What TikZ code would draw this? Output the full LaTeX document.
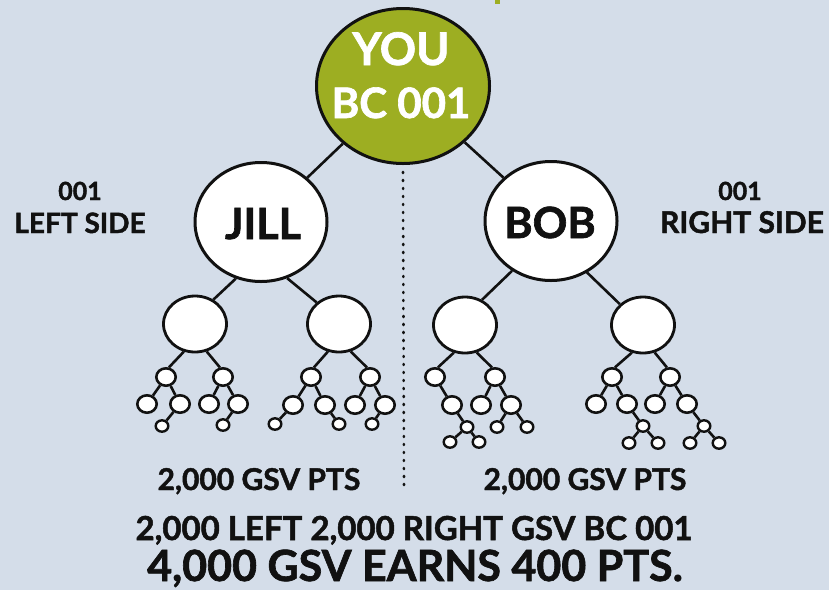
\documentclass[tikz,border=0pt]{standalone}
\usepackage{fontspec}
\setmainfont{Lato}[BoldFeatures={FakeBold=1.5}]
\usetikzlibrary{shapes.geometric}
\definecolor{bg}{RGB}{212,221,233}
\definecolor{leafgreen}{RGB}{157,174,34}
\definecolor{ink}{RGB}{17,17,17}
\newcommand{\fsz}[1]{\fontsize{#1}{#1}\selectfont}

\tikzset{
  rootnode/.style={ellipse, draw=ink, line width=3pt, fill=leafgreen, inner sep=0pt,
                   minimum width=173pt, minimum height=155pt},
  bignode/.style={ellipse, draw=ink, line width=3pt, fill=white, inner sep=0pt,
                  minimum width=132pt, minimum height=119pt},
  midnode/.style={ellipse, draw=ink, line width=2.8pt, fill=white, inner sep=0pt,
                  minimum width=63pt, minimum height=56pt},
  smallnode/.style={ellipse, draw=ink, line width=2.6pt, fill=white, inner sep=0pt,
                    minimum width=19.4pt, minimum height=17.4pt},
  tinynode/.style={ellipse, draw=ink, line width=2.4pt, fill=white, inner sep=0pt,
                   minimum width=12.6pt, minimum height=11.4pt},
  link/.style={draw=ink, line width=2.6pt},
  divider/.style={draw=ink, line width=2.6pt, line cap=round, dash pattern=on 1pt off 7pt},
  txt/.style={inner sep=0pt, anchor=base, text=ink, font=\bfseries},
  wtxt/.style={inner sep=0pt, anchor=base, text=white, font=\bfseries}
}

\begin{document}
\begin{tikzpicture}[x=1pt, y=-1pt]
  % canvas
  \fill[bg] (0,0) rectangle (829,590);
  \useasboundingbox (0,0) rectangle (829,590);
  \fill[leafgreen] (495,0) rectangle (500,4);

  % root and first generation
  \node[rootnode] (you) at (403,86) {};
  \node[bignode] (jill) at (261,222) {};
  \node[bignode] (bob) at (551,221) {};

  % dividing line between the two sides
  \coordinate (dotend) at (404,488);
  \draw[divider] (you.south) ++(0,7) -- (dotend);

  % second generation
  \node[midnode] (l1) at (195,324) {};
  \node[midnode] (l2) at (339,324) {};
  \node[midnode] (l3) at (465,325) {};
  \node[midnode] (l4) at (643,325) {};

  % subtree under l1
  \node[smallnode] (a1) at (166,377) {};
  \node[smallnode] (a2) at (223,377) {};
  \node[smallnode] (a11) at (147,404) {};
  \node[smallnode] (a12) at (180,404) {};
  \node[smallnode] (a21) at (209,404) {};
  \node[smallnode] (a22) at (238,404) {};
  \node[tinynode] (a121) at (162,426) {};
  \node[tinynode] (a221) at (223,425) {};

  % subtree under l2
  \node[smallnode] (b1) at (311,377) {};
  \node[smallnode] (b2) at (370,377) {};
  \node[smallnode] (b11) at (293,405) {};
  \node[smallnode] (b12) at (325,405) {};
  \node[smallnode] (b21) at (355,405) {};
  \node[smallnode] (b22) at (385,405) {};
  \node[tinynode] (b111) at (275,424) {};
  \node[tinynode] (b121) at (339,424) {};
  \node[tinynode] (b221) at (372,424) {};

  % subtree under l3
  \node[smallnode] (c1) at (435,377) {};
  \node[smallnode] (c2) at (495,377) {};
  \node[smallnode] (c11) at (452,405) {};
  \node[smallnode] (c21) at (481,405) {};
  \node[smallnode] (c22) at (511,405) {};
  \node[tinynode] (c111) at (467,427) {};
  \node[tinynode] (c1111) at (450,442) {};
  \node[tinynode] (c1112) at (479,442) {};
  \node[tinynode] (c221) at (497,427) {};
  \node[tinynode] (c222) at (527,427) {};

  % subtree under l4
  \node[smallnode] (d1) at (612,377) {};
  \node[smallnode] (d2) at (670,377) {};
  \node[smallnode] (d11) at (596,404) {};
  \node[smallnode] (d12) at (627,404) {};
  \node[smallnode] (d21) at (655,404) {};
  \node[smallnode] (d22) at (687,404) {};
  \node[tinynode] (d121) at (643,426) {};
  \node[tinynode] (d1211) at (629,443) {};
  \node[tinynode] (d1212) at (658,443) {};
  \node[tinynode] (d221) at (704,426) {};
  \node[tinynode] (d2211) at (690,443) {};
  \node[tinynode] (d2212) at (719,443) {};

  % connectors
  \draw[link] (you) -- (jill);
  \draw[link] (you) -- (bob);
  \draw[link] (jill.-114) -- (l1.53);
  \draw[link] (jill.-65) -- (l2.136);
  \draw[link] (bob.-128) -- (l3.56);
  \draw[link] (bob.-55) -- (l4.138);

  \draw[link] (l1.-112) -- (a1.73);
  \draw[link] (l1.-67) -- (a2.108);
  \draw[link] (l2.-112) -- (b1.73);
  \draw[link] (l2.-67) -- (b2.108);
  \draw[link] (l3.-112) -- (c1.73);
  \draw[link] (l3.-67) -- (c2.108);
  \draw[link] (l4.-112) -- (d1.73);
  \draw[link] (l4.-67) -- (d2.108);

  \draw[link] (a1) -- (a11);  \draw[link] (a1) -- (a12);
  \draw[link] (a2) -- (a21);  \draw[link] (a2) -- (a22);
  \draw[link] (a12) -- (a121); \draw[link] (a22) -- (a221);

  \draw[link] (b1) -- (b11);  \draw[link] (b1) -- (b12);
  \draw[link] (b2) -- (b21);  \draw[link] (b2) -- (b22);
  \draw[link] (b11) -- (b111); \draw[link] (b12) -- (b121);
  \draw[link] (b22) -- (b221);

  \draw[link] (c1) -- (c11);
  \draw[link] (c2) -- (c21);  \draw[link] (c2) -- (c22);
  \draw[link] (c11) -- (c111);
  \draw[link] (c111) -- (c1111); \draw[link] (c111) -- (c1112);
  \draw[link] (c22) -- (c221); \draw[link] (c22) -- (c222);

  \draw[link] (d1) -- (d11);  \draw[link] (d1) -- (d12);
  \draw[link] (d2) -- (d21);  \draw[link] (d2) -- (d22);
  \draw[link] (d12) -- (d121);
  \draw[link] (d121) -- (d1211); \draw[link] (d121) -- (d1212);
  \draw[link] (d22) -- (d221);
  \draw[link] (d221) -- (d2211); \draw[link] (d221) -- (d2212);

  % labels
  \node[wtxt, font=\bfseries\fsz{45}] (youname) at (401,65) {YOU};
  \node[wtxt, font=\bfseries\fsz{42}] (youcode) at (401,118) {BC 001};
  \node[txt, font=\bfseries\fsz{43}] (jillname) at (263,239) {JILL};
  \node[txt, font=\bfseries\fsz{43}] (bobname) at (550,238) {BOB};

  \node[txt, font=\bfseries\fsz{25}] (lcode) at (80,200) {001};
  \node[txt, font=\bfseries\fsz{28}] (lside) at (80,233) {LEFT SIDE};
  \node[txt, font=\bfseries\fsz{25}] (rcode) at (740,200) {001};
  \node[txt, font=\bfseries\fsz{30}] (rside) at (742,233) {RIGHT SIDE};

  \node[txt, font=\bfseries\fsz{30}] (lpts) at (259,490) {2,000 GSV PTS};
  \node[txt, font=\bfseries\fsz{30}] (rpts) at (585,490) {2,000 GSV PTS};
  \node[txt, font=\bfseries\fsz{33}] (total) at (414,540) {2,000 LEFT 2,000 RIGHT GSV BC 001};
  \node[txt, font=\bfseries\fsz{43}] (earn) at (415,581) {4,000 GSV EARNS 400 PTS.};
\end{tikzpicture}
\end{document}
